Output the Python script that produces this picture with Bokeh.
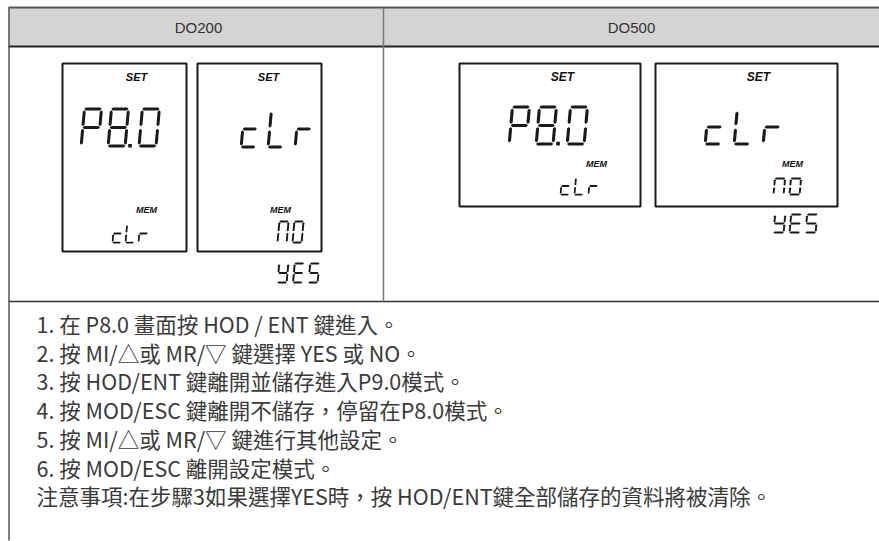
from bokeh.plotting import figure
from bokeh.models import Range1d
from bokeh.core.properties import value
from bokeh.embed import file_html
from bokeh.resources import INLINE

# ---------------- data ----------------
models = ["DO200", "DO500"]
set_label = "SET"
mem_label = "MEM"
main_readouts = ["P8.0", "cLr"]      # big digits: panel 1, panel 2
sub_readouts = ["cLr", "nO"]         # small digits under MEM
alt_readout = "YES"                  # alternative value shown below panel 2
steps = [
    "1. 在 P8.0 畫面按 HOD / ENT 鍵進入。",
    "2. 按 MI/△或 MR/▽ 鍵選擇 YES 或 NO。",
    "3. 按 HOD/ENT 鍵離開並儲存進入P9.0模式。",
    "4. 按 MOD/ESC 鍵離開不儲存，停留在P8.0模式。",
    "5. 按 MI/△或 MR/▽ 鍵進行其他設定。",
    "6. 按 MOD/ESC 離開設定模式。",
]
note = "注意事項:在步驟3如果選擇YES時，按 HOD/ENT鍵全部儲存的資料將被清除。"

SEGMENTS = {"P": "abefg", "8": "abcdefg", "0": "abcdef", "c": "deg", "L": "def",
            "r": "eg", "n": "abcef", "O": "abcdef", "Y": "bcdfg", "E": "adefg",
            "S": "acdfg"}

# ---------------- layout ----------------
W_PAGE, H_PAGE = 879, 541
X0, X1 = 8, 879
Y_TOP, Y_HEAD, Y_ROW = 7, 46, 301
X_DIV = 383

p = figure(width=W_PAGE, height=H_PAGE, x_range=Range1d(0, W_PAGE), y_range=Range1d(H_PAGE, 0),
           output_backend="svg", toolbar_location=None, min_border=0)
p.axis.visible = False
p.grid.visible = False
p.outline_line_color = None
p.background_fill_color = "white"
p.border_fill_color = "white"

# header band
p.quad(left=[X0], right=[X1], top=[Y_TOP], bottom=[Y_HEAD], fill_color="#d4d4d4", line_color=None)
p.segment(x0=[X0], y0=[Y_TOP], x1=[X1], y1=[Y_TOP], line_color="#555555", line_width=2)
p.segment(x0=[X0], y0=[Y_HEAD], x1=[X1], y1=[Y_HEAD], line_color="#222222", line_width=2)
p.segment(x0=[X0], y0=[Y_ROW], x1=[X1], y1=[Y_ROW], line_color="#333333", line_width=1.5)
p.segment(x0=[X_DIV], y0=[Y_TOP], x1=[X_DIV], y1=[Y_ROW], line_color="#777777", line_width=1.5)
p.segment(x0=[X0 + 0.5], y0=[Y_TOP], x1=[X0 + 0.5], y1=[540], line_color="#555555", line_width=1.5)

p.text(x=[198, 631], y=[27, 27], text=models, text_align="center", text_baseline="middle",
       text_font=value("Liberation Sans"), text_font_size="15px", text_color="#333333")


def seg_polys(ch, x0, y0, W, H, T, s=0.09):
    G = T * 0.45
    h = T / 2.0

    def hseg(yc):
        return [(G, yc), (G + h, yc - h), (W - G - h, yc - h), (W - G, yc), (W - G - h, yc + h), (G + h, yc + h)]

    def vseg(xc, y1, y2):
        return [(xc, y1 + G), (xc + h, y1 + G + h), (xc + h, y2 - G - h), (xc, y2 - G),
                (xc - h, y2 - G - h), (xc - h, y1 + G + h)]

    shapes = {
        "a": hseg(h), "g": hseg(H / 2.0), "d": hseg(H - h),
        "f": vseg(h, h, H / 2.0), "b": vseg(W - h, h, H / 2.0),
        "e": vseg(h, H / 2.0, H - h), "c": vseg(W - h, H / 2.0, H - h),
    }
    xs, ys = [], []
    for sname in SEGMENTS.get(ch, ""):
        pts = shapes[sname]
        xs.append([x0 + px + (H - py) * s for px, py in pts])
        ys.append([y0 + py for px, py in pts])
    return xs, ys


def draw_readout(txt, left, top, W, H, pitch, T):
    xs, ys = [], []
    x = left
    for ch in txt:
        if ch == ".":
            d = T * 1.2
            dx = x - pitch + W + (pitch - W - d) / 2.0
            xs.append([dx, dx + d, dx + d, dx])
            ys.append([top + H - d, top + H - d, top + H, top + H])
            x += T * 1.3
            continue
        a, b = seg_polys(ch, x, top, W, H, T)
        xs += a
        ys += b
        x += pitch
    p.patches(xs=xs, ys=ys, fill_color="#1a1a1a", line_color=None)


def draw_panel(l, r, t, b):
    p.quad(left=[l], right=[r], top=[t], bottom=[b], fill_color="white", line_color="#1a1a1a", line_width=2)


def lcd_label(x, y, txt, size):
    p.text(x=[x], y=[y], text=[txt], text_align="center", text_baseline="middle",
           text_font=value("Liberation Sans"), text_font_style="bold italic",
           text_font_size=size, text_color="#111111")


# ---- DO200 column ----
draw_panel(62, 186, 63, 251)
draw_panel(197, 321, 63, 251)
lcd_label(136, 76, set_label, "11px")
lcd_label(268, 76, set_label, "11px")
lcd_label(146, 209, mem_label, "9px")
lcd_label(280, 209, mem_label, "9px")
draw_readout(main_readouts[0], 79, 107, 20, 40, 27, 3.0)
draw_readout(main_readouts[1], 239, 109, 17, 39, 27, 3.0)
draw_readout(sub_readouts[0], 111, 223, 10, 20, 13, 1.8)
draw_readout(sub_readouts[1], 276, 220, 11, 23, 15, 1.9)
draw_readout(alt_readout, 276, 262, 11, 21, 15.5, 1.9)

# ---- DO500 column ----
draw_panel(459, 640, 63, 206)
draw_panel(655, 837, 63, 206)
lcd_label(562, 76, set_label, "12px")
lcd_label(758, 76, set_label, "12px")
lcd_label(596, 163, mem_label, "9px")
lcd_label(792, 163, mem_label, "9px")
draw_readout(main_readouts[0], 507, 105, 20, 40, 27, 3.1)
draw_readout(main_readouts[1], 703, 108, 18, 37, 29, 3.1)
draw_readout(sub_readouts[0], 559, 176, 10, 19, 14, 1.8)
draw_readout(sub_readouts[1], 772, 177, 12, 18, 16, 1.9)
draw_readout(alt_readout, 772, 213, 12, 20, 16, 1.9)

# ---- instructions ----
lines = steps + [note]
line_x = [36] * len(lines)
line_y = [323 + 28.7 * i for i in range(len(lines))]
p.text(x=line_x, y=line_y, text=lines, text_align="left", text_baseline="middle",
       text_font=value("Noto Sans CJK TC"), text_font_size="21.5px", text_color="#3a3a3a")

open("out.html", "w").write(file_html(p, INLINE))
